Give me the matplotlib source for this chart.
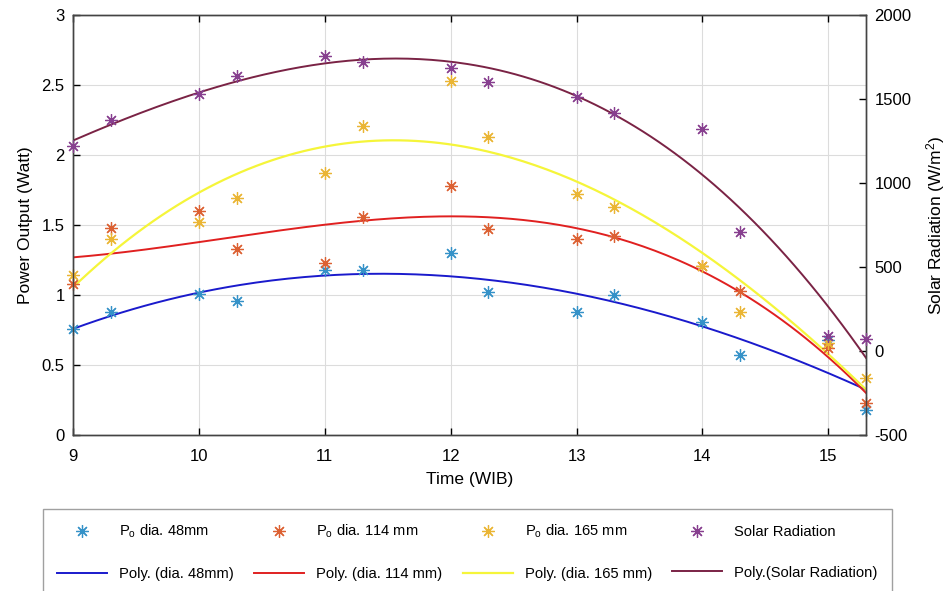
import numpy as np
import matplotlib
matplotlib.use("Agg")
import matplotlib.pyplot as plt

plt.rcParams['font.family'] = ['Liberation Sans', 'DejaVu Sans']
plt.rcParams['mathtext.fontset'] = 'custom'
plt.rcParams['mathtext.rm'] = 'Liberation Sans'
plt.rcParams['mathtext.it'] = 'Liberation Sans'
plt.rcParams['axes.unicode_minus'] = False

# time of day (WIB)
time = [9, 9.3, 10, 10.3, 11, 11.3, 12, 12.3, 13, 13.3, 14, 14.3, 15, 15.3]

# power output (Watt)
p_48 = [0.76, 0.88, 1.01, 0.96, 1.18, 1.18, 1.30, 1.02, 0.88, 1.00, 0.81, 0.57, 0.68, 0.18]
p_114 = [1.08, 1.48, 1.60, 1.33, 1.23, 1.56, 1.78, 1.47, 1.40, 1.42, 1.21, 1.03, 0.62, 0.23]
p_165 = [1.14, 1.40, 1.52, 1.69, 1.87, 2.21, 2.53, 2.13, 1.72, 1.63, 1.21, 0.88, 0.66, 0.41]

# solar radiation (W/m2)
solar = [1220, 1375, 1530, 1637, 1756, 1720, 1685, 1601, 1512, 1417, 1321, 708, 89, 71]

fig = plt.figure(figsize=(9.47, 5.91), dpi=100)
ax = fig.add_axes([0.0771, 0.264, 0.8374, 0.7106])
ax2 = ax.twinx()

star = (8, 2, 0)
ms = 9

tt = np.linspace(9, 15.3, 200)
def poly(y):
    c = np.polyfit(time, y, 3)
    return np.polyval(c, tt)

h1, = ax.plot(time, p_48, ls='none', marker=star, ms=ms, color='#3592c8', mew=0.9, clip_on=False, zorder=4)
h2, = ax.plot(time, p_114, ls='none', marker=star, ms=ms, color='#dc6133', mew=0.9, clip_on=False, zorder=4)
h3, = ax.plot(time, p_165, ls='none', marker=star, ms=ms, color='#eab534', mew=0.9, clip_on=False, zorder=4)
l1, = ax.plot(tt, poly(p_48), color='#1a1acc', lw=1.4)
l2, = ax.plot(tt, poly(p_114), color='#e02020', lw=1.4)
l3, = ax.plot(tt, poly(p_165), color='#f5f53a', lw=1.6)

h4, = ax2.plot(time, solar, ls='none', marker=star, ms=ms, color='#873f8f', mew=0.9, clip_on=False, zorder=4)
l4, = ax2.plot(tt, poly(solar), color='#7a2345', lw=1.4)

ax.set_xlim(9, 15.3)
ax.set_ylim(0, 3)
ax.set_xticks([9, 10, 11, 12, 13, 14, 15])
ax.set_yticks([0, 0.5, 1, 1.5, 2, 2.5, 3])
ax.set_yticklabels(['0', '0.5', '1', '1.5', '2', '2.5', '3'])
ax2.set_ylim(-500, 2000)
ax2.set_yticks([-500, 0, 500, 1000, 1500, 2000])

ax.grid(True, color='#dcdcdc', lw=0.8)
ax.tick_params(axis='x', direction='in', labelsize=12, length=5, top=True, width=1, pad=10)
ax.tick_params(axis='y', direction='in', labelsize=12, length=5, width=1, pad=6)
ax2.tick_params(direction='in', labelsize=12, length=5, width=1, pad=6)
for a in (ax, ax2):
    for s in a.spines.values():
        s.set_color('#444444')
        s.set_linewidth(1)

ax.set_xlabel('Time (WIB)', fontsize=12.5, labelpad=6)
ax.set_ylabel('Power Output (Watt)', fontsize=12.5, labelpad=6)
ax2.set_ylabel('Solar Radiation (W/m$^2$)', fontsize=12.5, labelpad=9)

handles = [h1, l1, h2, l2, h3, l3, h4, l4]
labels = ['P$_\\mathregular{o}$ dia. 48mm', 'Poly. (dia. 48mm)',
          'P$_\\mathregular{o}$ dia. 114 mm', 'Poly. (dia. 114 mm)',
          'P$_\\mathregular{o}$ dia. 165 mm', 'Poly. (dia. 165 mm)',
          'Solar Radiation', 'Poly.(Solar Radiation)']
leg = fig.legend(handles, labels, ncol=4, loc='upper left',
                 bbox_to_anchor=(0.0454, 0.1387), fontsize=10.6,
                 handlelength=3.4, handletextpad=0.8, columnspacing=1.4,
                 labelspacing=1.8, borderpad=0.95, fancybox=False,
                 edgecolor='#888888', borderaxespad=0)
leg.get_frame().set_linewidth(1)

fig.savefig('out.png', dpi=100)
